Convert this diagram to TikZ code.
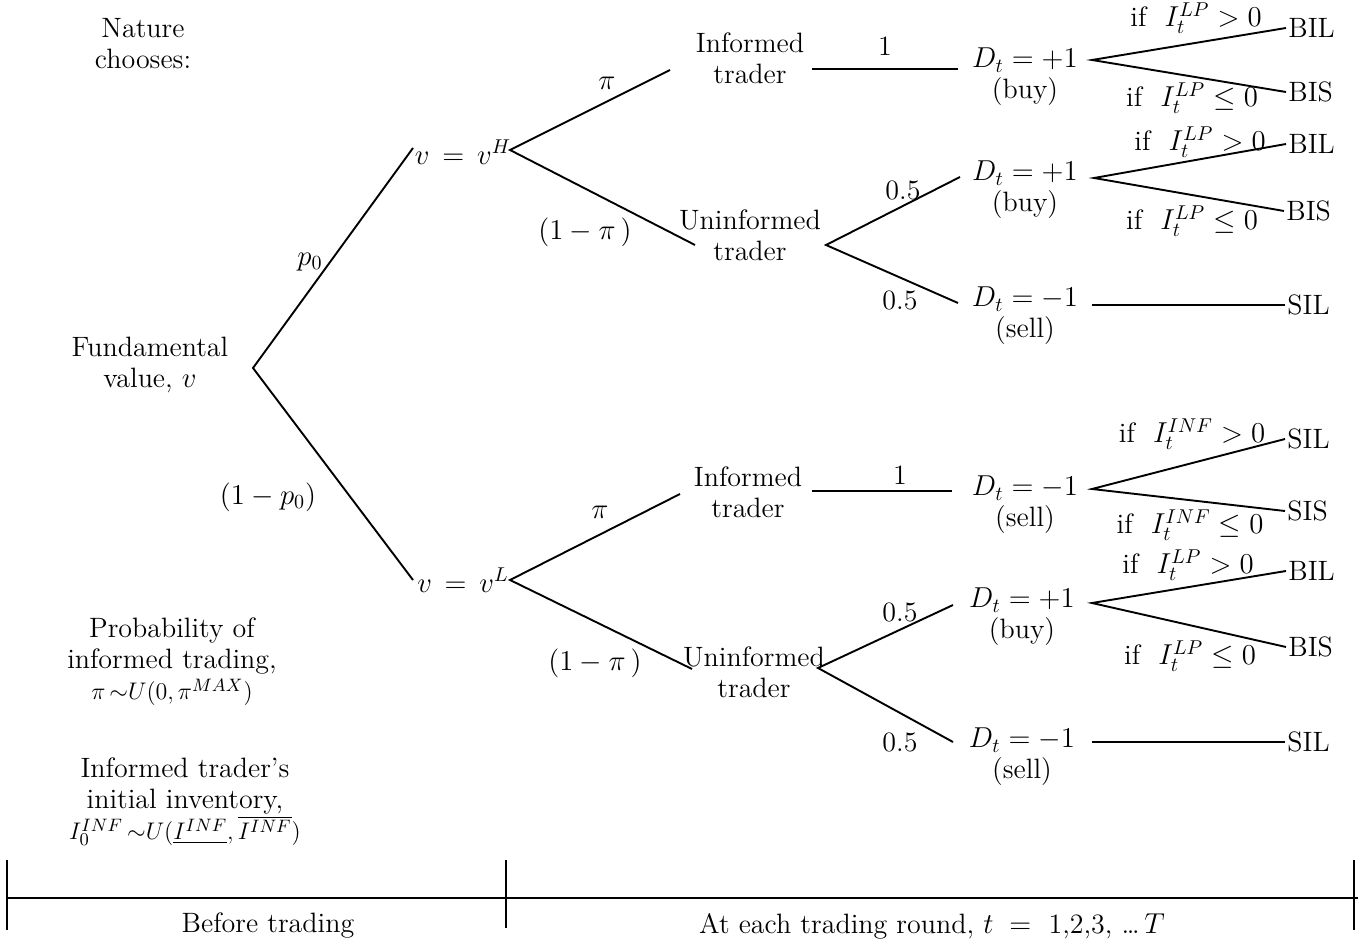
\documentclass[tikz,border=0pt]{standalone}
\usetikzlibrary{calc}
\begin{document}
\begin{tikzpicture}[x=0.5pt,y=-0.5pt,
  txt/.style={font=\fontsize{14}{15.5}\selectfont, align=center, inner sep=1pt},
  lbl/.style={font=\fontsize{14}{15.5}\selectfont, inner sep=0.5pt},
  leaf/.style={font=\fontsize{14}{15.5}\selectfont, anchor=west, inner sep=1pt},
  br/.style={line width=0.95pt},
  tick/.style={line width=1pt}]
\useasboundingbox (0,0) rectangle (1365,946);

% left column texts
\node[txt] (nature) at (143,44) {Nature\\chooses:};
\node[txt] (fund) at (150,365) {Fundamental\\value, $v$};
\node[txt] (prob) at (172,662) {Probability of\\informed trading,\\{\fontsize{12.5}{15.5}\selectfont$\pi\kern2pt{\sim} U(0,\pi^{MAX})$}};
\node[txt] (inv) at (185,802) {Informed trader's\\initial inventory,\\{\fontsize{12.5}{15.5}\selectfont$I_0^{INF}\kern2pt{\sim} U(\underline{I^{INF}},\overline{I^{INF}})$}};

% tree nodes
\coordinate (root) at (253,368);
\node[txt] (vH) at (463,152) {$v\,=\,v^H$};
\node[txt] (vL) at (463,580) {$v\,=\,v^L$};
\node[txt] (inf1) at (750,58) {Informed\\trader};
\node[txt] (uninf1) at (750,235) {Uninformed\\trader};
\node[txt] (inf2) at (748,492) {Informed\\trader};
\node[txt] (uninf2) at (754,672) {Uninformed\\trader};
\node[txt] (D1) at (1025,77) {$D_t=+1$\\(buy)};
\node[txt] (D2) at (1025,190) {$D_t=+1$\\(buy)};
\node[txt] (D3) at (1025,316) {$D_t=-1$\\(sell)};
\node[txt] (D4) at (1025,505) {$D_t=-1$\\(sell)};
\node[txt] (D5) at (1022,617) {$D_t=+1$\\(buy)};
\node[txt] (D6) at (1022,757) {$D_t=-1$\\(sell)};
\node[leaf] (BIL1) at (1286,28) {BIL};
\node[leaf] (BIS1) at (1286,92) {BIS};
\node[leaf] (BIL2) at (1286,144) {BIL};
\node[leaf] (BIS2) at (1284,211) {BIS};
\node[leaf] (SIL1) at (1285,305) {SIL};
\node[leaf] (SIL2) at (1285,439) {SIL};
\node[leaf] (SIS2) at (1285,511) {SIS};
\node[leaf] (BIL3) at (1286,571) {BIL};
\node[leaf] (BIS3) at (1286,647) {BIS};
\node[leaf] (SIL3) at (1285,742) {SIL};

% branch points
\coordinate (vHin) at (413,148);
\coordinate (vLin) at (413,580);
\coordinate (vHout) at (510,150);
\coordinate (vLout) at (510,580);
\coordinate (inf1in) at ($(inf1.center)+(-80,12)$);
\coordinate (uninf1in) at ($(uninf1.center)+(-55,10)$);
\coordinate (inf1out) at ($(inf1.center)+(62,11)$);
\coordinate (uninf1out) at ($(uninf1.center)+(76,10)$);
\coordinate (inf2in) at ($(inf2.center)+(-68,2)$);
\coordinate (uninf2in) at ($(uninf2.center)+(-62,-3)$);
\coordinate (inf2out) at ($(inf2.center)+(64,-1)$);
\coordinate (uninf2out) at ($(uninf2.center)+(64,-4)$);
\coordinate (D1in) at ($(D1.center)+(-67,-8)$);
\coordinate (D2in) at ($(D2.center)+(-65,-13)$);
\coordinate (D3in) at ($(D3.center)+(-67,-13)$);
\coordinate (D4in) at ($(D4.center)+(-73,-14)$);
\coordinate (D5in) at ($(D5.center)+(-69,-12)$);
\coordinate (D6in) at ($(D6.center)+(-69,-15)$);
\coordinate (D1out) at ($(D1.center)+(67,-17)$);
\coordinate (D2out) at ($(D2.center)+(69,-12)$);
\coordinate (D3out) at ($(D3.center)+(67,-11)$);
\coordinate (D4out) at ($(D4.center)+(67,-16)$);
\coordinate (D5out) at ($(D5.center)+(70,-14)$);
\coordinate (D6out) at ($(D6.center)+(70,-15)$);

% branches
\draw[br] (vHin) -- (root) -- (vLin);
\draw[br] (inf1in) -- (vHout) -- (uninf1in);
\draw[br] (inf1out) -- (D1in);
\draw[br] (D2in) -- (uninf1out) -- (D3in);
\draw[br] (BIL1.west) -- (D1out) -- (BIS1.west);
\draw[br] (BIL2.west) -- (D2out) -- (BIS2.west);
\draw[br] (D3out) -- (SIL1.west);
\draw[br] (inf2in) -- (vLout) -- (uninf2in);
\draw[br] (inf2out) -- (D4in);
\draw[br] (D5in) -- (uninf2out) -- (D6in);
\draw[br] (SIL2.west) -- (D4out) -- (SIS2.west);
\draw[br] (BIL3.west) -- (D5out) -- (BIS3.west);
\draw[br] (D6out) -- (SIL3.west);

% branch labels
\node[lbl] (lp0) at (310,262) {$p_0$};
\node[lbl] (lp0c) at (268,497) {$(1-p_0)$};
\node[lbl] (lpi1) at (607,83) {$\pi$};
\node[lbl] (lpi1c) at (585,232) {$(1-\pi\,)$};
\node[lbl] (lpi2) at (600,512) {$\pi$};
\node[lbl] (lpi2c) at (595,663) {$(1-\pi\,)$};
\node[lbl] (lone1) at (885,46) {1};
\node[lbl] (lone2) at (900,475) {1};
\node[lbl] (lh1) at (903,190) {0.5};
\node[lbl] (lh2) at (900,300) {0.5};
\node[lbl] (lh3) at (900,612) {0.5};
\node[lbl] (lh4) at (900,742) {0.5};
\node[lbl] (c1) at (1196,18) {if \ $I_t^{LP}>0$};
\node[lbl] (c2) at (1192,98) {if \ $I_t^{LP}\le 0$};
\node[lbl] (c3) at (1200,142) {if \ $I_t^{LP}>0$};
\node[lbl] (c4) at (1192,221) {if \ $I_t^{LP}\le 0$};
\node[lbl] (c5) at (1192,434) {if \ $I_t^{INF}>0$};
\node[lbl] (c6) at (1190,525) {if \ $I_t^{INF}\le 0$};
\node[lbl] (c7) at (1188,565) {if \ $I_t^{LP}>0$};
\node[lbl] (c8) at (1190,656) {if \ $I_t^{LP}\le 0$};

% timeline
\coordinate (tl) at (7,898);
\coordinate (tm) at (506,898);
\coordinate (tr) at (1354,898);
\coordinate (tend) at (1358,898);
\draw[tick] (tl) -- (tend);
\draw[tick] ($(tl)+(0,-38)$) -- ($(tl)+(0,32)$);
\draw[tick] ($(tm)+(0,-38)$) -- ($(tm)+(0,30)$);
\draw[tick] ($(tr)+(0,-38)$) -- ($(tr)+(0,32)$);
\node[lbl] (before) at (268,926) {Before trading};
\node[lbl] (each) at (932,926) {At each trading round, $t\;=\;$ 1,2,3, \ldots\,$T$};
\end{tikzpicture}
\end{document}
